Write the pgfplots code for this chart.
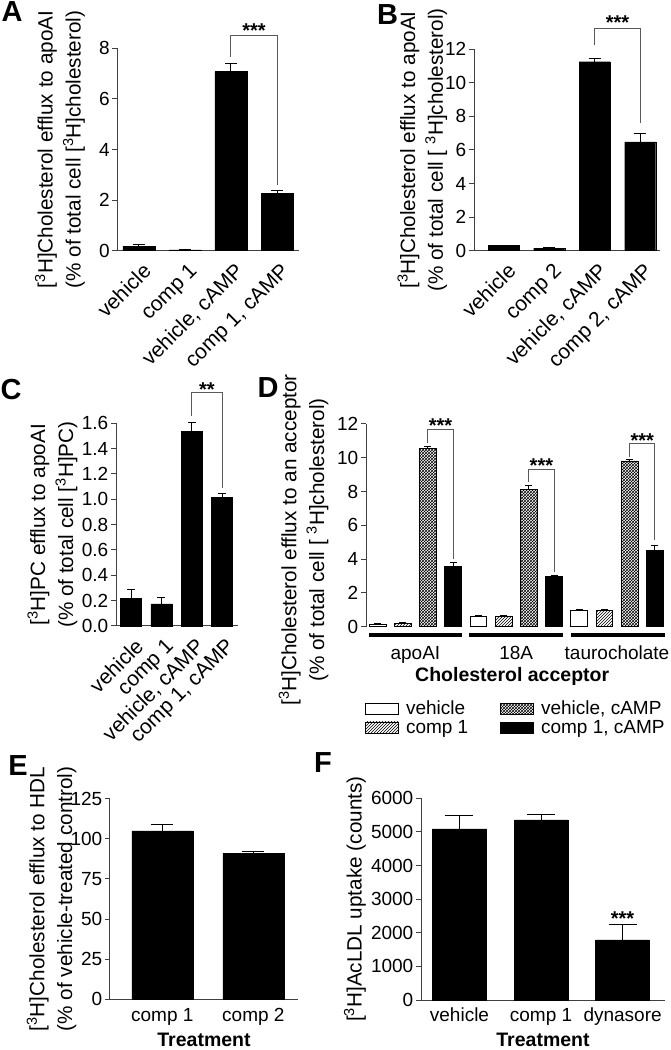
\documentclass[border=0pt]{standalone}
\usepackage{fontspec}
\setmainfont{Liberation Sans}
\usepackage{pgfplots}
\pgfplotsset{compat=1.18}
\usetikzlibrary{patterns}

\newcommand{\tfont}{\fontsize{19}{21}\selectfont}
\newcommand{\rfont}{\fontsize{21}{23}\selectfont}
\newcommand{\lfont}{\fontsize{20.7}{27.8}\selectfont}
\newcommand{\pfont}{\fontsize{29}{29}\selectfont\bfseries}
\newcommand{\sfont}{\fontsize{19.5}{20}\selectfont\bfseries}
\newcommand{\stfont}{\fontsize{20}{20}\selectfont\bfseries}
\newcommand{\tH}{[\textsuperscript{3}H]}

\tikzset{
  brk/.style={black!65, line width=1pt},
  stars/.style={font=\stfont, anchor=base, inner sep=0pt},
}
\pgfplotsset{
  panel/.style={
    scale only axis,
    anchor=south west,
    axis x line*=bottom,
    axis y line*=left,
    axis line style={black!75, line width=1pt},
    ymin=0,
    clip=false,
    tick align=outside,
    major tick length=5pt,
    tick style={black!75, line width=1pt},
    xtick style={draw=none},
    tick label style={font=\tfont},
    yticklabel style={inner sep=2.5pt},
    /pgf/number format/assume math mode=true,
    every axis y label/.style={rotate=90, anchor=center, align=center, font=\lfont},
    every axis x label/.style={at={(axis description cs:0.5,0)}, anchor=center, inner sep=0pt, font=\sfont},
  },
  errs/.style={error bars/.cd, y dir=plus, y explicit, error mark=|,
    error bar style={black, line width=1pt},
    error mark options={black, line width=1pt, mark size=#1}},
  rotlab/.style={xticklabel style={font=\rfont, xshift=2.7pt, yshift=-4.5pt, rotate=45, anchor=north east, inner sep=1pt}},
}

\begin{document}
\begin{tikzpicture}
\useasboundingbox (0,0) rectangle (671pt,1050pt);

% ---------------- A
\begin{axis}[panel, rotlab, at={(117.5pt,799.3pt)}, width=181.5pt, height=202.4pt,
  xmin=-0.467, xmax=3.478, ymax=8, ytick={0,2,4,6,8},
  xtick={0,1,2,3}, xticklabels={vehicle, comp 1, {vehicle, cAMP}, {comp 1, cAMP}},
  ylabel={\tH Cholesterol efflux to apoAI\\(\% of total cell \tH cholesterol)},
  ylabel style={at={(axis description cs:-0.317,0.5)}}]
\addplot[ybar, bar shift=0pt, bar width=32pt, fill=black, draw=black, errs=6pt]
  table[x=x, y=y, y error=e, row sep=\\]{x y e\\ 0 0.18 0.05\\ 1 0.03 0.01\\ 2 7.08 0.33\\ 3 2.27 0.09\\};
\draw[brk] (axis cs:2,7.67) |- (axis cs:3,8.49) -- (axis cs:3,2.6);
\node[stars] at (axis cs:2.5,8.44) {***};
\end{axis}

% ---------------- B
\begin{axis}[panel, rotlab, at={(474pt,799.3pt)}, width=186pt, height=201.4pt,
  xmin=-0.653, xmax=3.435, ymax=12, ytick={0,2,4,6,8,10,12},
  xtick={0,1,2,3}, xticklabels={vehicle, comp 2, {vehicle, cAMP}, {comp 2, cAMP}},
  ylabel={\tH Cholesterol efflux to apoAI\\(\% of total cell [ \textsuperscript{3}H]cholesterol)},
  ylabel style={at={(axis description cs:-0.278,0.5)}}]
\addplot[ybar, bar shift=0pt, bar width=31pt, fill=black, draw=black, errs=6pt]
  table[x=x, y=y, y error=e, row sep=\\]{x y e\\ 0 0.30 0.03\\ 1 0.15 0.02\\ 2 11.26 0.20\\ 3 6.48 0.51\\};
\draw[brk] (axis cs:2,12.26) |- (axis cs:3,13.25) -- (axis cs:3,7.59);
\node[stars] at (axis cs:2.5,13.18) {***};
\end{axis}

% ---------------- C
\begin{axis}[panel, rotlab, at={(116pt,424pt)}, width=121.7pt, height=202.7pt,
  xmin=-0.50, xmax=3.515, ymax=1.6, ytick={0,0.2,0.4,0.6,0.8,1.0,1.2,1.4,1.6},
  yticklabel style={/pgf/number format/.cd, fixed, fixed zerofill, precision=1},
  xtick={0,1,2,3}, xticklabels={vehicle, comp 1, {vehicle, cAMP}, {comp 1, cAMP}},
  ylabel={\tH PC efflux to apoAI\\(\% of total cell \tH PC)},
  ylabel style={at={(axis description cs:-0.522,0.5)}}]
\addplot[ybar, bar shift=0pt, bar width=21pt, fill=black, draw=black, errs=4pt]
  table[x=x, y=y, y error=e, row sep=\\]{x y e\\ 0 0.218 0.074\\ 1 0.174 0.052\\ 2 1.534 0.071\\ 3 1.013 0.034\\};
\draw[brk] (axis cs:2,1.658) |- (axis cs:3,1.842) -- (axis cs:3,1.087);
\node[stars] at (axis cs:2.5,1.815) {**};
\end{axis}

% ---------------- D
\begin{axis}[panel, at={(366pt,423.3pt)}, width=301.4pt, height=202.7pt,
  x axis line style={draw=none},
  xmin=-0.46, xmax=11.5, ymax=12, ytick={0,2,4,6,8,10,12},
  xtick={1.5,5.5,9.5}, xticklabels={apoAI, 18A, taurocholate},
  xticklabel style={anchor=base, yshift=-28.3pt},
  xlabel={Cholesterol acceptor},
  xlabel style={xshift=-4.5pt, yshift=-49.3pt},
  ylabel={\tH Cholesterol efflux to an acceptor\\(\% of total cell [ \textsuperscript{3}H]cholesterol)},
  ylabel style={at={(axis description cs:-0.207,0.428)}},
  legend columns=2, transpose legend, legend cell align=left,
  legend style={draw=none, fill=none, at={(axis description cs:0,0)}, anchor=north west,
    xshift=-1pt, yshift=-74pt, inner sep=0pt, font=\tfont, row sep=4pt,
    nodes={inner sep=0pt},
    /tikz/every odd column/.append style={column sep=7pt},
    /tikz/every even column/.append style={column sep=32pt}},
  legend image code/.code={\draw[#1, draw=black, line width=0.8pt] (0pt,-5.5pt) rectangle (33pt,5.5pt);}]
\addplot[ybar, bar shift=0pt, bar width=16.7pt, fill=white, draw=black, line width=0.8pt, errs=3.5pt]
  table[x=x, y=y, y error=e, row sep=\\]{x y e\\ 0 0.12 0.05\\ 4 0.59 0.05\\ 8 0.95 0.04\\};
\addlegendentry{vehicle}
\addplot[ybar, bar shift=0pt, bar width=16.7pt, pattern=north east lines, draw=black, line width=0.8pt, errs=3.5pt]
  table[x=x, y=y, y error=e, row sep=\\]{x y e\\ 1 0.18 0.05\\ 5 0.63 0.06\\ 9 0.98 0.04\\};
\addlegendentry{comp 1}
\addplot[ybar, bar shift=0pt, bar width=16.7pt, pattern=crosshatch, draw=black, line width=0.8pt, errs=3.5pt]
  table[x=x, y=y, y error=e, row sep=\\]{x y e\\ 2 10.56 0.10\\ 6 8.15 0.20\\ 10 9.81 0.06\\};
\addlegendentry{vehicle, cAMP}
\addplot[ybar, bar shift=0pt, bar width=16.7pt, fill=black, draw=black, line width=0.8pt, errs=3.5pt]
  table[x=x, y=y, y error=e, row sep=\\]{x y e\\ 3 3.59 0.20\\ 7 3.00 0.06\\ 11 4.54 0.26\\};
\addlegendentry{comp 1, cAMP}
\draw[line width=3.5pt] (axis cs:-0.33,-0.49) -- (axis cs:3.36,-0.49);
\draw[line width=3.5pt] (axis cs:3.63,-0.49) -- (axis cs:7.36,-0.49);
\draw[line width=3.5pt] (axis cs:7.66,-0.49) -- (axis cs:11.39,-0.49);
\draw[brk] (axis cs:2,10.86) |- (axis cs:3,11.68) -- (axis cs:3,3.99);
\draw[brk] (axis cs:6,8.59) |- (axis cs:7,9.32) -- (axis cs:7,3.26);
\draw[brk] (axis cs:10,10.03) |- (axis cs:11,10.82) -- (axis cs:11,5.13);
\node[stars] at (axis cs:2.5,11.47) {***};
\node[stars] at (axis cs:6.5,9.13) {***};
\node[stars] at (axis cs:10.5,10.58) {***};
\end{axis}

% ---------------- E
\begin{axis}[panel, at={(110pt,50.7pt)}, width=188pt, height=200.6pt,
  xmin=-0.574, xmax=1.49, ymax=125, ytick={0,25,50,75,100,125},
  xtick={0,1}, xticklabels={comp 1, comp 2},
  xticklabel style={anchor=base, yshift=-16.8pt},
  xlabel={Treatment}, xlabel style={yshift=-40.2pt},
  ylabel={\tH Cholesterol efflux to HDL\\(\% of vehicle-treated control)},
  ylabel style={at={(axis description cs:-0.311,0.5)}}]
\addplot[ybar, bar shift=0pt, bar width=61pt, fill=black, draw=black, errs=11pt]
  table[x=x, y=y, y error=e, row sep=\\]{x y e\\ 0 104.9 4.3\\ 1 90.9 1.5\\};
\end{axis}

% ---------------- F
\begin{axis}[panel, at={(421pt,50pt)}, width=244pt, height=201.7pt,
  xmin=-0.472, xmax=2.52, ymax=6000, ytick={0,1000,2000,3000,4000,5000,6000},
  scaled y ticks=false, yticklabel style={/pgf/number format/1000 sep={}},
  xtick={0,1,2}, xticklabels={vehicle, comp 1, dynasore},
  xticklabel style={anchor=base, yshift=-16.8pt},
  xlabel={Treatment}, xlabel style={yshift=-39.5pt},
  ylabel={\tH AcLDL uptake (counts)},
  ylabel style={at={(axis description cs:-0.2705,0.5)}}]
\addplot[ybar, bar shift=0pt, bar width=54pt, fill=black, draw=black, errs=14pt]
  table[x=x, y=y, y error=e, row sep=\\]{x y e\\ 0 5088 396\\ 1 5355 149\\ 2 1785 466\\};
\node[stars] at (axis cs:2,2220) {***};
\end{axis}

% panel letters
\node[font=\pfont] at (12pt,1038pt) {A};
\node[font=\pfont] at (387.5pt,1035pt) {B};
\node[font=\pfont] at (11pt,660pt) {C};
\node[font=\pfont] at (268pt,662pt) {D};
\node[font=\pfont] at (18pt,284pt) {E};
\node[font=\pfont] at (323pt,287pt) {F};
\end{tikzpicture}
\end{document}
